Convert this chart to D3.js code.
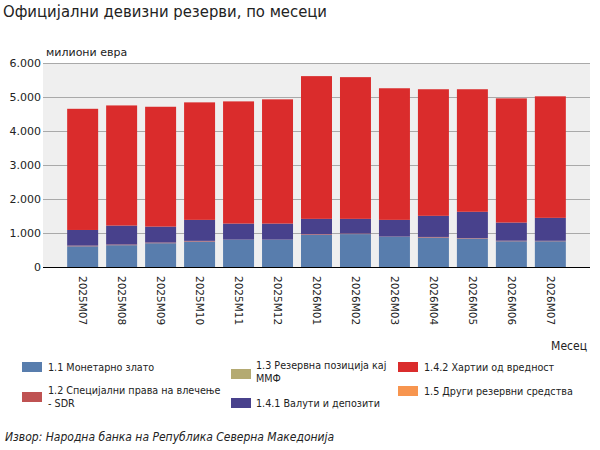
<!DOCTYPE html>
<html>
<head>
<meta charset="utf-8">
<script src="https://cdn.jsdelivr.net/npm/d3@7"></script>
<style>
  html, body { margin: 0; padding: 0; background: #fff; }
  svg { display: block; }
  text { fill: #222; }
</style>
</head>
<body>
<svg id="chart" width="600" height="450"></svg>
<script>
// ---- data (million EUR) ----
const months = ["2025M07","2025M08","2025M09","2025M10","2025M11","2025M12","2026M01","2026M02","2026M03","2026M04","2026M05","2026M06","2026M07"];
const gold       = [610, 642, 700, 750, 802, 802, 945, 968, 888, 868, 840, 758, 758];
const sdr        = [18, 18, 18, 18, 2, 2, 18, 15, 5, 15, 12, 15, 12];
const imfPos     = [1, 1, 1, 1, 1, 1, 1, 1, 1, 1, 1, 1, 1];
const currency   = [460, 557, 469, 617, 472, 472, 452, 432, 492, 621, 771, 533, 675];
const securities = [3564, 3534, 3525, 3456, 3594, 3654, 4198, 4168, 3871, 3723, 3604, 3653, 3574];
const otherRes   = [0, 0, 0, 0, 0, 0, 0, 0, 0, 0, 0, 0, 0];
const yTicks = [0, 1000, 2000, 3000, 4000, 5000, 6000];

const seriesKeys = ["gold","sdr","imf","cur","sec","oth"];
const seriesColors = ["#587dad","#bf5252","#b4aa72","#48418c","#da2c2c","#f7954f"];
const legendLines = [
  ["1.1 Монетарно злато"],
  ["1.2  Специјални права на влечење", "- SDR"],
  ["1.3 Резервна позиција кај", "ММФ"],
  ["1.4.1 Валути и депозити"],
  ["1.4.2 Хартии од вредност"],
  ["1.5 Други резервни средства"]
];

// build table
const table = months.map((m, i) => ({
  month: m, gold: gold[i], sdr: sdr[i], imf: imfPos[i],
  cur: currency[i], sec: securities[i], oth: otherRes[i]
}));

const svg = d3.select("#chart");
const FONT = "'DejaVu Sans', Verdana, sans-serif";
const FONT_C = "'DejaVu Sans Condensed', 'DejaVu Sans', sans-serif";

const pLeft = 43, pRight = 590, pTop = 63, pBottom = 267;

const x = d3.scaleBand().domain(months).range([pLeft, pRight])
  .paddingInner(0.205).paddingOuter(0.62);
const y = d3.scaleLinear().domain([0, 6000]).range([pBottom, pTop]);

// title
svg.append("text").attr("x", 3).attr("y", 17)
  .style("font-family", FONT_C).style("font-size", "16.5px")
  .text("Официјални девизни резерви, по месеци");

// plot background
svg.append("rect").attr("x", pLeft).attr("y", pTop)
  .attr("width", pRight - pLeft).attr("height", pBottom - pTop)
  .attr("fill", "#efefef");

// grid
svg.append("g").selectAll("line").data(yTicks.filter(d => d > 0)).join("line")
  .attr("x1", pLeft).attr("x2", pRight)
  .attr("y1", d => y(d) + 0.5).attr("y2", d => y(d) + 0.5)
  .attr("stroke", "#a9a9a9").attr("stroke-width", 1);

// y axis labels
const yAxis = d3.axisLeft(y).tickValues(yTicks).tickSize(0).tickPadding(2)
  .tickFormat(d => d3.format(",")(d).replace(/,/g, "."));
const gy = svg.append("g").attr("transform", `translate(${pLeft},0)`).call(yAxis);
gy.select(".domain").remove();
gy.selectAll("text").style("font-family", FONT).style("font-size", "11px").attr("fill", "#222");

svg.append("text").attr("x", 46).attr("y", 56)
  .style("font-family", FONT).style("font-size", "11px")
  .text("милиони евра");

// stacked bars
const stack = d3.stack().keys(seriesKeys);
const stacked = stack(table);
svg.append("g").selectAll("g").data(stacked).join("g")
  .attr("fill", (d, i) => seriesColors[i])
  .selectAll("rect").data(d => d).join("rect")
  .attr("x", d => x(d.data.month))
  .attr("width", x.bandwidth())
  .attr("y", d => y(d[1]))
  .attr("height", d => Math.max(0, y(d[0]) - y(d[1])));

// x axis
const xAxis = d3.axisBottom(x).tickSize(0).tickPadding(0);
const gx = svg.append("g").attr("transform", `translate(0,${pBottom})`).call(xAxis);
gx.select(".domain").attr("stroke", "#000").attr("stroke-width", 1.2)
  .attr("d", `M${pLeft},0.5H${pRight}`);
gx.selectAll("text")
  .style("font-family", FONT).style("font-size", "10.5px").attr("fill", "#222")
  .attr("text-anchor", "start")
  .attr("dy", "0.35em")
  .attr("transform", "translate(0,9) rotate(90)")
  .attr("y", 0).attr("x", 0);

svg.append("text").attr("x", 587).attr("y", 350).attr("text-anchor", "end")
  .style("font-family", FONT_C).style("font-size", "12px")
  .text("Месец");

// legend (positions per item)
const legendPos = [
  { sx: 22,  sy: 362, tx: 48,  ty: 371 },
  { sx: 22,  sy: 392, tx: 48,  ty: 394 },
  { sx: 231, sy: 369, tx: 256, ty: 369 },
  { sx: 231, sy: 398, tx: 256, ty: 407 },
  { sx: 398, sy: 362, tx: 424, ty: 371 },
  { sx: 398, sy: 386, tx: 424, ty: 395 }
];
const lg = svg.append("g");
legendPos.forEach((p, i) => {
  lg.append("rect").attr("x", p.sx).attr("y", p.sy).attr("width", 20).attr("height", 10)
    .attr("fill", seriesColors[i]);
  legendLines[i].forEach((l, k) => {
    lg.append("text").attr("x", p.tx).attr("y", p.ty + k * 13)
      .style("font-family", FONT_C).style("font-size", "10.7px")
      .text(l);
  });
});

// source
svg.append("text").attr("x", 5).attr("y", 441)
  .style("font-family", FONT_C).style("font-size", "12px").style("font-style", "italic")
  .text("Извор: Народна банка на Република Северна Македонија");
</script>
</body>
</html>
